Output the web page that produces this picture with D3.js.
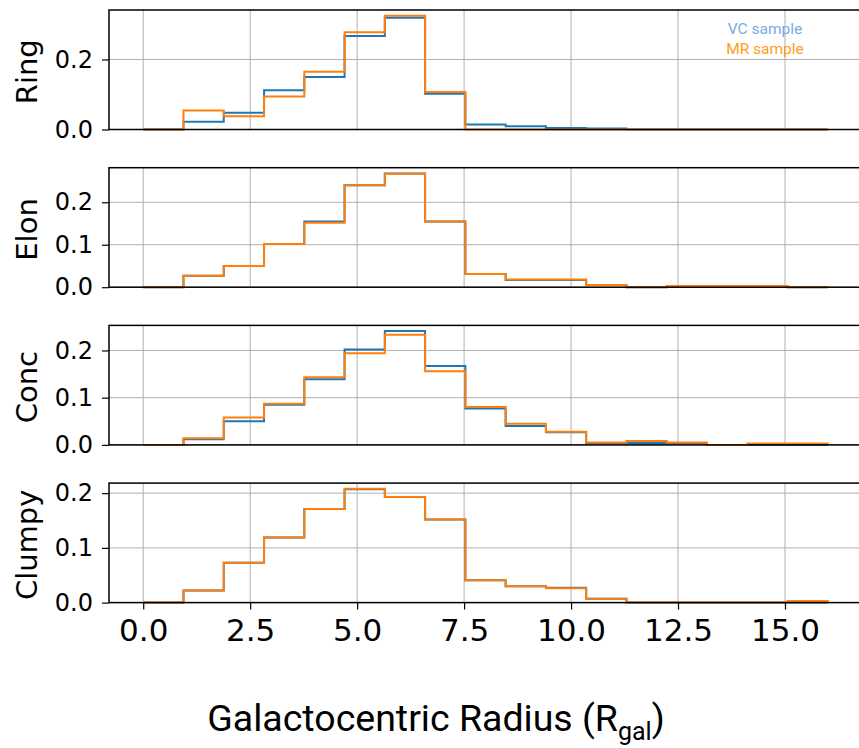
<!DOCTYPE html>
<html>
<head>
<meta charset="utf-8">
<script src="https://cdn.jsdelivr.net/npm/d3@7"></script>
<style>
  html, body { margin: 0; padding: 0; background: #fff; }
  svg { display: block; }
</style>
</head>
<body>
<svg id="chart" width="859" height="748"></svg>
<script>
// Histogram bin edges (17 equal bins over 0–16 R_gal)
const binEdges = [0, 0.941, 1.882, 2.824, 3.765, 4.706, 5.647, 6.588, 7.529,
                  8.471, 9.412, 10.353, 11.294, 12.235, 13.176, 14.118, 15.059, 16];

// Morphology classes, one panel each
const panels = ["Ring", "Elon", "Conc", "Clumpy"];

// Normalised counts per bin, VC sample
const ringVC   = [0, 0.022, 0.048, 0.112, 0.150, 0.267, 0.319, 0.102, 0.014, 0.009, 0.004, 0.003, 0, 0, 0, 0, 0];
const elonVC   = [0, 0.027, 0.050, 0.102, 0.155, 0.240, 0.268, 0.155, 0.031, 0.017, 0.017, 0.005, 0, 0.002, 0.002, 0.002, 0];
const concVC   = [0, 0.012, 0.050, 0.085, 0.139, 0.202, 0.241, 0.167, 0.077, 0.040, 0.027, 0.004, 0.004, 0.004, 0, 0, 0];
const clumpyVC = [0, 0.022, 0.073, 0.119, 0.171, 0.207, 0.193, 0.152, 0.041, 0.030, 0.027, 0.007, 0, 0, 0, 0, 0];

// Normalised counts per bin, MR sample
const ringMR   = [0, 0.054, 0.038, 0.094, 0.165, 0.278, 0.325, 0.107, 0, 0, 0, 0, 0, 0, 0, 0, 0];
const elonMR   = [0, 0.027, 0.050, 0.102, 0.152, 0.240, 0.267, 0.155, 0.031, 0.018, 0.018, 0.005, 0, 0.003, 0.003, 0.003, 0];
const concMR   = [0, 0.014, 0.058, 0.087, 0.143, 0.194, 0.233, 0.156, 0.080, 0.045, 0.028, 0.005, 0.008, 0.005, 0, 0.003, 0.003];
const clumpyMR = [0, 0.022, 0.073, 0.119, 0.171, 0.208, 0.193, 0.152, 0.041, 0.030, 0.026, 0.007, 0, 0, 0, 0, 0.003];

const vcSeries = [ringVC, elonVC, concVC, clumpyVC];
const mrSeries = [ringMR, elonMR, concMR, clumpyMR];

// Tick values
const xTicks = [0, 2.5, 5, 7.5, 10, 12.5, 15];
const yTicksPerPanel = [[0, 0.2], [0, 0.1, 0.2], [0, 0.1, 0.2], [0, 0.1, 0.2]];

const legendLabels = ["VC sample", "MR sample"];
const xTitle = "Galactocentric Radius (R";
const xTitleSub = "gal";

const colVC = "#1f77b4", colMR = "#ff7f0e";

const svg = d3.select("#chart");
const left = 109, right = 862;
const panelTop0 = 10, panelH = 119.5, panelStep = 157.7;

const x = d3.scaleLinear().domain([-0.8, 16.8]).range([left, right]);

// step outline of a histogram, open at the baseline like an unfilled step plot
function stepPoints(vals) {
  const pts = [[binEdges[0], 0]];
  vals.forEach((v, i) => {
    pts.push([binEdges[i], v]);
    pts.push([binEdges[i + 1], v]);
  });
  pts.push([binEdges[binEdges.length - 1], 0]);
  return pts;
}

panels.forEach((name, p) => {
  const top = panelTop0 + p * panelStep;
  const bottom = top + panelH;
  const vc = vcSeries[p], mr = mrSeries[p];
  const ymax = d3.max(vc.concat(mr)) * 1.05;
  const y = d3.scaleLinear().domain([0, ymax]).range([bottom, top]);
  const g = svg.append("g");

  // clip to the axes box
  const clipId = "clip" + p;
  svg.append("clipPath").attr("id", clipId)
    .append("rect").attr("x", left).attr("y", top - 2)
    .attr("width", right - left).attr("height", panelH + 4);

  // grid
  const grid = g.append("g").attr("clip-path", `url(#${clipId})`);
  grid.selectAll("line.gx").data(xTicks).join("line")
    .attr("x1", d => x(d)).attr("x2", d => x(d))
    .attr("y1", top).attr("y2", bottom)
    .attr("stroke", "#b0b0b0").attr("stroke-width", 1);
  grid.selectAll("line.gy").data(yTicksPerPanel[p]).join("line")
    .attr("x1", left).attr("x2", right)
    .attr("y1", d => y(d)).attr("y2", d => y(d))
    .attr("stroke", "#b0b0b0").attr("stroke-width", 1);

  // histograms
  const line = d3.line().x(d => x(d[0])).y(d => y(d[1]));
  const plot = g.append("g").attr("clip-path", `url(#${clipId})`);
  plot.append("path").attr("d", line(stepPoints(vc)))
    .attr("fill", "none").attr("stroke", colVC).attr("stroke-width", 2);
  plot.append("path").attr("d", line(stepPoints(mr)))
    .attr("fill", "none").attr("stroke", colMR).attr("stroke-width", 2);

  // y axis
  const yAxis = d3.axisLeft(y).tickValues(yTicksPerPanel[p])
    .tickFormat(d3.format(".1f")).tickSize(7).tickPadding(9);
  const ya = g.append("g").attr("transform", `translate(${left},0)`).call(yAxis);
  ya.select(".domain").remove();
  ya.selectAll(".tick line").attr("stroke", "#000").attr("stroke-width", 1.2);
  ya.selectAll(".tick text").attr("font-family", "DejaVu Sans")
    .attr("font-size", 24).attr("fill", "#000");

  // x axis on the bottom panel only
  if (p === panels.length - 1) {
    const xAxis = d3.axisBottom(x).tickValues(xTicks)
      .tickFormat(d3.format(".1f")).tickSize(7).tickPadding(9);
    const xa = g.append("g").attr("transform", `translate(0,${bottom})`).call(xAxis);
    xa.select(".domain").remove();
    xa.selectAll(".tick line").attr("stroke", "#000").attr("stroke-width", 1.2);
    xa.selectAll(".tick text").attr("font-family", "DejaVu Sans")
      .attr("font-size", 31).attr("fill", "#000");
  }

  // frame
  g.append("rect").attr("x", left).attr("y", top)
    .attr("width", right - left).attr("height", panelH)
    .attr("fill", "none").attr("stroke", "#000").attr("stroke-width", 1.5);

  // panel label
  g.append("text")
    .attr("transform", `translate(37,${(top + bottom) / 2 + 2}) rotate(-90)`)
    .attr("text-anchor", "middle")
    .attr("font-family", "DejaVu Sans").attr("font-size", 29)
    .attr("fill", "#000").text(name);
});

// legend
const legend = svg.append("g").attr("font-family", "Roboto").attr("font-size", 15.5)
  .attr("text-anchor", "middle");
legend.append("text").attr("x", 765).attr("y", 34).attr("fill", "#74aee0").text(legendLabels[0]);
legend.append("text").attr("x", 765).attr("y", 54).attr("fill", "#ff9c1a").text(legendLabels[1]);

// x axis title with subscript
const title = svg.append("text").attr("x", 436).attr("y", 731)
  .attr("text-anchor", "middle").attr("font-family", "Roboto")
  .attr("font-size", 37.5).attr("fill", "#000");
title.append("tspan").text(xTitle);
title.append("tspan").attr("font-size", 25).attr("dy", 9).text(xTitleSub);
title.append("tspan").attr("dy", -9).text(")");
</script>
</body>
</html>
